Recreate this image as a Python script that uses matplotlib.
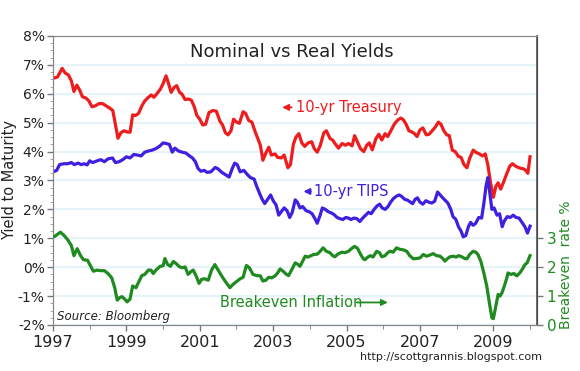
import matplotlib
matplotlib.use("Agg")
import matplotlib.pyplot as plt
from matplotlib.ticker import MultipleLocator, FixedLocator

# 10-yr Treasury yield, %
tsy_year = [1997.04, 1997.12, 1997.25, 1997.33, 1997.42, 1997.5, 1997.57, 1997.65, 1997.73, 1997.8,
            1997.9, 1997.98, 1998.06, 1998.15, 1998.25, 1998.35, 1998.45, 1998.55, 1998.63, 1998.7,
            1998.77, 1998.85, 1998.93, 1999.02, 1999.1, 1999.17, 1999.25, 1999.33, 1999.42, 1999.5,
            1999.6, 1999.68, 1999.75, 1999.83, 1999.92, 2000.0, 2000.08, 2000.15, 2000.22, 2000.3,
            2000.37, 2000.45, 2000.52, 2000.6, 2000.68, 2000.77, 2000.85, 2000.92, 2001.0, 2001.08,
            2001.16, 2001.25, 2001.35, 2001.45, 2001.55, 2001.62, 2001.7, 2001.77, 2001.85, 2001.92,
            2002.0, 2002.08, 2002.18, 2002.25, 2002.33, 2002.42, 2002.5, 2002.58, 2002.65, 2002.72,
            2002.8, 2002.88, 2002.95, 2003.05, 2003.12, 2003.22, 2003.3, 2003.4, 2003.47, 2003.55,
            2003.62, 2003.7, 2003.78, 2003.86, 2003.95, 2004.05, 2004.12, 2004.2, 2004.28, 2004.38,
            2004.45, 2004.55, 2004.62, 2004.7, 2004.78, 2004.88, 2004.97, 2005.05, 2005.15, 2005.22,
            2005.3, 2005.38, 2005.47, 2005.55, 2005.62, 2005.7, 2005.8, 2005.88, 2005.96, 2006.05,
            2006.12, 2006.22, 2006.3, 2006.4, 2006.48, 2006.55, 2006.62, 2006.7, 2006.78, 2006.85,
            2006.92, 2007.0, 2007.08, 2007.17, 2007.25, 2007.33, 2007.42, 2007.5, 2007.57, 2007.65,
            2007.73, 2007.8, 2007.88, 2007.96, 2008.05, 2008.12, 2008.2, 2008.28, 2008.35, 2008.45,
            2008.53, 2008.62, 2008.7, 2008.78, 2008.85, 2008.92, 2009.0, 2009.07, 2009.13, 2009.2,
            2009.28, 2009.37, 2009.45, 2009.52, 2009.6, 2009.68, 2009.75, 2009.83, 2009.88, 2009.94,
            2010.0]
tsy_yield = [6.55, 6.58, 6.88, 6.72, 6.65, 6.45, 6.08, 6.30, 6.12, 5.90,
             5.85, 5.75, 5.55, 5.58, 5.66, 5.66, 5.58, 5.50, 5.42, 4.95,
             4.46, 4.65, 4.72, 4.68, 4.67, 5.27, 5.25, 5.32, 5.58, 5.75,
             5.88, 5.96, 5.88, 6.00, 6.15, 6.35, 6.62, 6.35, 6.05, 6.22,
             6.28, 6.05, 5.98, 5.80, 5.82, 5.78, 5.55, 5.25, 5.12, 4.92,
             4.95, 5.35, 5.42, 5.40, 5.05, 4.92, 4.65, 4.58, 4.72, 5.12,
             5.02, 4.98, 5.38, 5.32, 5.08, 5.02, 4.72, 4.45, 4.22, 3.70,
             3.95, 4.15, 3.88, 3.92, 3.80, 3.78, 3.88, 3.44, 3.55, 4.25,
             4.50, 4.62, 4.30, 4.18, 4.30, 4.34, 4.10, 3.98, 4.20, 4.65,
             4.72, 4.45, 4.40, 4.25, 4.12, 4.28, 4.22, 4.28, 4.20, 4.55,
             4.32, 4.10, 4.00, 4.22, 4.30, 4.06, 4.45, 4.60, 4.40, 4.62,
             4.52, 4.75, 4.95, 5.10, 5.16, 5.10, 4.95, 4.72, 4.68, 4.62,
             4.52, 4.75, 4.82, 4.58, 4.60, 4.72, 4.85, 5.02, 4.95, 4.72,
             4.58, 4.55, 4.05, 4.00, 3.83, 3.80, 3.55, 3.44, 3.75, 4.05,
             3.97, 3.92, 3.85, 3.92, 3.54, 2.95, 2.42, 2.80, 2.92, 2.70,
             2.95, 3.25, 3.50, 3.58, 3.50, 3.45, 3.42, 3.40, 3.35, 3.25,
             3.82]

# 10-yr TIPS real yield, %
tips_year = [1997.04, 1997.1, 1997.18, 1997.3, 1997.4, 1997.5, 1997.58, 1997.68, 1997.77, 1997.85,
             1997.93, 1998.0, 1998.08, 1998.2, 1998.3, 1998.4, 1998.5, 1998.62, 1998.7, 1998.8,
             1998.9, 1999.0, 1999.1, 1999.2, 1999.3, 1999.4, 1999.5, 1999.6, 1999.7, 1999.8,
             1999.9, 2000.0, 2000.08, 2000.17, 2000.25, 2000.32, 2000.42, 2000.52, 2000.62, 2000.72,
             2000.8, 2000.88, 2000.95, 2001.03, 2001.12, 2001.2, 2001.3, 2001.42, 2001.5, 2001.6,
             2001.7, 2001.8, 2001.88, 2001.95, 2002.02, 2002.1, 2002.2, 2002.3, 2002.38, 2002.48,
             2002.55, 2002.63, 2002.7, 2002.77, 2002.85, 2002.93, 2003.0, 2003.08, 2003.15, 2003.22,
             2003.3, 2003.38, 2003.45, 2003.52, 2003.6, 2003.66, 2003.73, 2003.8, 2003.9, 2003.98,
             2004.06, 2004.13, 2004.2, 2004.28, 2004.34, 2004.42, 2004.5, 2004.58, 2004.66, 2004.74,
             2004.82, 2004.9, 2004.98, 2005.05, 2005.12, 2005.2, 2005.28, 2005.36, 2005.44, 2005.52,
             2005.6, 2005.67, 2005.75, 2005.83, 2005.9, 2005.97, 2006.05, 2006.13, 2006.2, 2006.28,
             2006.35, 2006.43, 2006.5, 2006.58, 2006.66, 2006.74, 2006.8, 2006.87, 2006.93, 2007.0,
             2007.08, 2007.16, 2007.24, 2007.32, 2007.4, 2007.48, 2007.55, 2007.62, 2007.7, 2007.76,
             2007.84, 2007.9, 2007.98, 2008.05, 2008.12, 2008.18, 2008.25, 2008.32, 2008.38, 2008.45,
             2008.52, 2008.6, 2008.68, 2008.74, 2008.8, 2008.85, 2008.9, 2008.96, 2009.02, 2009.1,
             2009.17, 2009.24, 2009.3, 2009.38, 2009.46, 2009.54, 2009.62, 2009.7, 2009.78, 2009.86,
             2009.93, 2010.0]
tips_yield = [3.32, 3.35, 3.55, 3.58, 3.58, 3.62, 3.55, 3.60, 3.55, 3.58,
              3.54, 3.68, 3.62, 3.68, 3.72, 3.65, 3.75, 3.78, 3.62, 3.65,
              3.72, 3.82, 3.78, 3.90, 3.88, 3.85, 3.98, 4.02, 4.05, 4.10,
              4.18, 4.30, 4.28, 4.25, 3.98, 4.12, 4.02, 3.98, 3.95, 3.85,
              3.78, 3.65, 3.42, 3.32, 3.35, 3.28, 3.30, 3.45, 3.40, 3.28,
              3.20, 3.12, 3.40, 3.60, 3.55, 3.30, 3.35, 3.20, 3.10, 3.05,
              2.80, 2.55, 2.35, 2.20, 2.35, 2.50, 2.30, 2.15, 1.80, 1.92,
              2.05, 1.95, 1.72, 1.90, 2.33, 2.25, 2.05, 2.10, 1.95, 1.92,
              1.85, 1.70, 1.52, 1.80, 2.05, 2.00, 1.92, 1.88, 1.82, 1.72,
              1.68, 1.65, 1.72, 1.70, 1.65, 1.70, 1.68, 1.58, 1.70, 1.80,
              1.90, 1.85, 2.00, 2.12, 2.18, 2.05, 2.00, 2.10, 2.25, 2.38,
              2.45, 2.50, 2.45, 2.35, 2.32, 2.25, 2.20, 2.35, 2.40, 2.25,
              2.18, 2.30, 2.25, 2.22, 2.28, 2.60, 2.50, 2.40, 2.30, 2.22,
              2.00, 1.75, 1.65, 1.40, 1.25, 1.05, 1.10, 1.40, 1.55, 1.45,
              1.52, 1.72, 1.70, 2.20, 2.80, 3.10, 2.60, 2.00, 2.05, 1.80,
              1.85, 1.40, 1.60, 1.75, 1.72, 1.80, 1.72, 1.70, 1.55, 1.40,
              1.18, 1.42]

# breakeven inflation, % (right axis scale)
be_year = [1997.05, 1997.2, 1997.3, 1997.4, 1997.5, 1997.57, 1997.66, 1997.75, 1997.83, 1997.94,
           1998.02, 1998.1, 1998.2, 1998.3, 1998.4, 1998.5, 1998.6, 1998.68, 1998.75, 1998.82,
           1998.88, 1998.95, 1999.02, 1999.1, 1999.17, 1999.26, 1999.34, 1999.42, 1999.5, 1999.6,
           1999.67, 1999.73, 1999.82, 1999.92, 2000.0, 2000.05, 2000.12, 2000.2, 2000.28, 2000.36,
           2000.44, 2000.52, 2000.6, 2000.68, 2000.76, 2000.82, 2000.9, 2000.98, 2001.05, 2001.13,
           2001.23, 2001.32, 2001.41, 2001.5, 2001.6, 2001.7, 2001.82, 2001.9, 2002.0, 2002.1,
           2002.18, 2002.27, 2002.35, 2002.45, 2002.55, 2002.65, 2002.72, 2002.8, 2002.88, 2002.96,
           2003.05, 2003.12, 2003.19, 2003.28, 2003.36, 2003.42, 2003.5, 2003.6, 2003.67, 2003.73,
           2003.8, 2003.87, 2003.95, 2004.03, 2004.1, 2004.2, 2004.28, 2004.36, 2004.45, 2004.55,
           2004.62, 2004.68, 2004.76, 2004.87, 2004.95, 2005.05, 2005.14, 2005.22, 2005.3, 2005.38,
           2005.45, 2005.5, 2005.58, 2005.65, 2005.72, 2005.82, 2005.9, 2005.96, 2006.05, 2006.12,
           2006.18, 2006.27, 2006.36, 2006.45, 2006.55, 2006.64, 2006.72, 2006.82, 2006.9, 2007.0,
           2007.09, 2007.18, 2007.27, 2007.36, 2007.45, 2007.55, 2007.62, 2007.68, 2007.75, 2007.82,
           2007.9, 2007.98, 2008.06, 2008.14, 2008.22, 2008.28, 2008.36, 2008.45, 2008.52, 2008.58,
           2008.66, 2008.74, 2008.82, 2008.9, 2008.96, 2009.0, 2009.06, 2009.13, 2009.18, 2009.23,
           2009.3, 2009.36, 2009.4, 2009.48, 2009.56, 2009.64, 2009.72, 2009.8, 2009.86, 2009.92,
           2010.0]
be_rate = [3.07, 3.21, 3.10, 2.95, 2.75, 2.40, 2.64, 2.40, 2.26, 2.24,
           2.05, 1.86, 1.90, 1.88, 1.88, 1.78, 1.63, 1.30, 0.86, 0.95,
           0.98, 0.90, 0.80, 0.90, 1.35, 1.29, 1.50, 1.71, 1.75, 1.90,
           1.90, 1.78, 1.92, 2.03, 2.05, 2.30, 2.10, 2.03, 2.20, 2.12,
           2.02, 1.98, 2.01, 1.75, 1.85, 1.90, 1.70, 1.44, 1.58, 1.60,
           1.55, 1.90, 2.09, 1.90, 1.69, 1.50, 1.29, 1.40, 1.50, 1.60,
           1.65, 2.06, 1.98, 1.75, 1.71, 1.70, 1.52, 1.55, 1.65, 1.63,
           1.70, 1.80, 1.94, 1.85, 1.75, 1.71, 1.90, 2.15, 2.10, 2.03,
           2.20, 2.38, 2.35, 2.40, 2.44, 2.45, 2.55, 2.67, 2.55, 2.50,
           2.40, 2.36, 2.45, 2.52, 2.50, 2.55, 2.65, 2.72, 2.65, 2.45,
           2.30, 2.26, 2.35, 2.40, 2.35, 2.55, 2.50, 2.36, 2.40, 2.50,
           2.55, 2.52, 2.67, 2.62, 2.60, 2.55, 2.40, 2.29, 2.30, 2.32,
           2.44, 2.38, 2.42, 2.47, 2.40, 2.38, 2.30, 2.21, 2.30, 2.36,
           2.38, 2.35, 2.40, 2.36, 2.30, 2.29, 2.45, 2.55, 2.52, 2.44,
           2.20, 1.80, 1.35, 0.70, 0.25, 0.22, 0.60, 1.06, 1.00, 1.10,
           1.35, 1.60, 1.80, 1.75, 1.78, 1.70, 1.80, 1.95, 2.09, 2.15,
           2.40]

red = "#ee1c1c"
blue = "#3f1fe0"
green = "#1f8a1f"
txt = "#222222"

fig = plt.figure(figsize=(5.8, 3.71), dpi=100)
ax = fig.add_axes([0.0914, 0.124, 0.8345, 0.779])
ax2 = ax.twinx()

for y in range(-2, 9):
    ax.axhline(y, color="#e6f3f9", lw=1.6, zorder=0)

ax.plot(tsy_year, tsy_yield, color=red, lw=2.3, zorder=3)
ax.plot(tips_year, tips_yield, color=blue, lw=2.3, zorder=3)
ax2.plot(be_year, be_rate, color=green, lw=2.3, zorder=3)

ax.set_xlim(1997, 2010.19)
ax.set_ylim(-2, 8)
ax2.set_ylim(0, 10)

ax.xaxis.set_major_locator(FixedLocator(range(1997, 2010, 2)))
ax.xaxis.set_minor_locator(MultipleLocator(1))
ax.yaxis.set_major_locator(MultipleLocator(1))
ax.yaxis.set_minor_locator(MultipleLocator(0.25))
ax.set_yticklabels([f"{int(v)}%" for v in ax.get_yticks()])
ax.tick_params(axis="x", labelsize=11.5, colors=txt, length=4, width=1, pad=3)
ax.tick_params(axis="x", which="minor", length=3, color="#777777")
ax.tick_params(axis="y", labelsize=10, colors=txt, length=4, width=1, pad=2)
ax.tick_params(axis="y", which="minor", length=2, color="#999999")
ax.tick_params(axis="both", color="#777777")

ax2.yaxis.set_major_locator(FixedLocator([0, 1, 2, 3]))
ax2.tick_params(axis="y", labelsize=11, colors=green, length=4, width=1, pad=3)
ax2.tick_params(axis="y", color="#777777")

for s in ["left", "bottom", "top"]:
    ax.spines[s].set_color("#888888")
    ax2.spines[s].set_color("#888888")
ax2.spines["right"].set_color("#555555")
ax2.spines["right"].set_linewidth(1.2)

ax.set_ylabel("Yield to Maturity", fontsize=10.5, color=txt)
ax.yaxis.set_label_coords(-0.075, 0.5)
ax2.set_ylabel("Breakeven  rate %", fontsize=10, color=green)
ax2.yaxis.set_label_coords(1.045, 0.21)

ax.text(2003.5, 7.45, "Nominal vs Real Yields", fontsize=13, color=txt, ha="center", va="center")

ax.annotate("", xy=(2003.17, 5.53), xytext=(2003.58, 5.53),
            arrowprops=dict(arrowstyle="-|>", color=red, lw=1.3, mutation_scale=9))
ax.text(2003.62, 5.53, "10-yr Treasury", fontsize=10.5, color=red, ha="left", va="center")

ax.annotate("", xy=(2003.75, 2.62), xytext=(2004.1, 2.62),
            arrowprops=dict(arrowstyle="-|>", color=blue, lw=1.3, mutation_scale=9))
ax.text(2004.12, 2.62, "10-yr TIPS", fontsize=10.5, color=blue, ha="left", va="center")

ax.text(2001.55, -1.22, "Breakeven Inflation", fontsize=10.5, color=green, ha="left", va="center")
ax.annotate("", xy=(2006.2, -1.22), xytext=(2005.2, -1.22),
            arrowprops=dict(arrowstyle="-|>", color=green, lw=1.3, mutation_scale=9))

ax.text(1997.12, -1.7, "Source: Bloomberg", fontsize=8.5, style="italic", color=txt, ha="left", va="center")
fig.text(0.935, 0.038, "http://scottgrannis.blogspot.com", fontsize=8, color=txt, ha="right", va="center")

fig.savefig("out.png", dpi=100)
